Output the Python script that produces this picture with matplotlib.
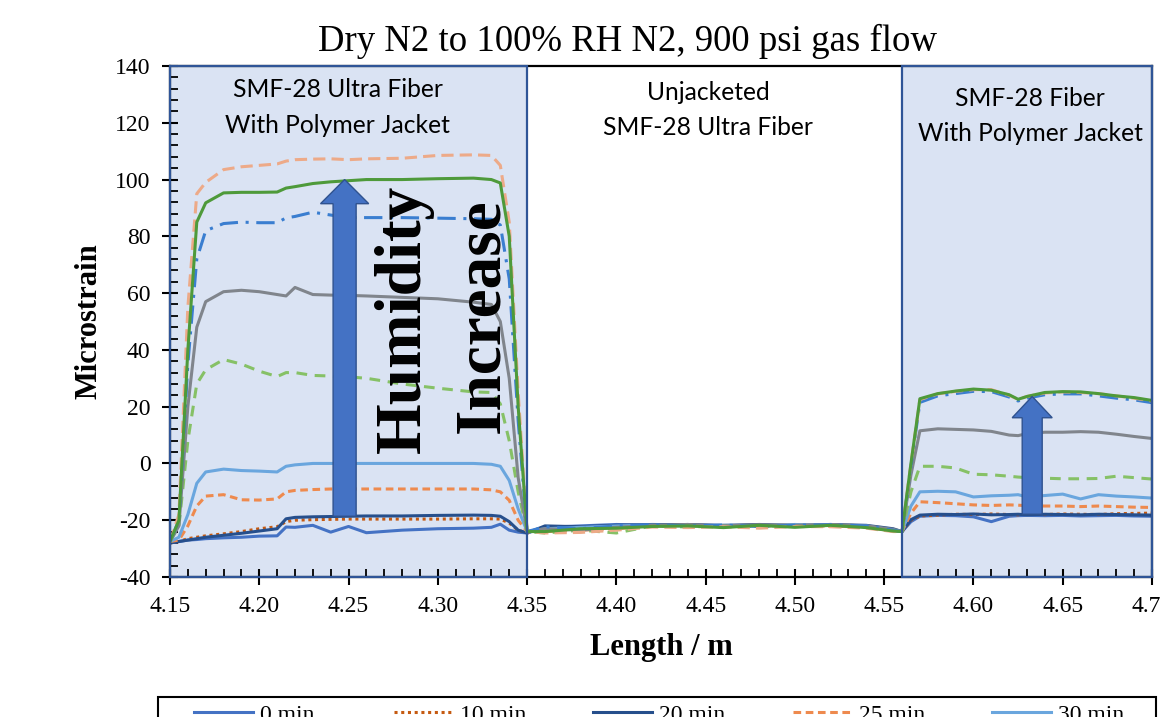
import matplotlib
matplotlib.use("Agg")
import matplotlib.pyplot as plt
from matplotlib.patches import Rectangle, FancyArrow
from matplotlib.ticker import MultipleLocator

plt.rcParams['font.family'] = ['Liberation Serif', 'DejaVu Serif']
plt.rcParams['axes.unicode_minus'] = False

# positions along the fibre (m)
length_m = [4.150, 4.155, 4.160, 4.165, 4.170, 4.180, 4.190, 4.200, 4.210, 4.215, 4.220,
            4.230, 4.240, 4.250, 4.260, 4.280, 4.300, 4.320, 4.330, 4.335, 4.340, 4.345, 4.350,
            4.360, 4.380, 4.400, 4.420, 4.440, 4.460, 4.480, 4.500, 4.520, 4.540, 4.555,
            4.560, 4.565, 4.570, 4.580, 4.590, 4.600, 4.610, 4.620, 4.625, 4.630, 4.640,
            4.650, 4.660, 4.670, 4.680, 4.690, 4.700]

# microstrain, one list per exposure time
t0 = [-28, -27.5, -27, -26.8, -26.5, -26.2, -26, -25.6, -25.5, -22.4, -22.5,
      -21.8, -24.2, -22.2, -24.4, -23.5, -23, -22.8, -22.5, -21.4, -23.5, -24.2, -24.5,
      -22.5, -22, -21.5, -21.8, -21.5, -22, -21.8, -22, -21.8, -22, -23.5,
      -24, -20.5, -18.6, -18.3, -18.4, -18.8, -20.5, -18.6, -18.4, -18.3, -18.4,
      -18.3, -18.5, -18.4, -18.3, -18.5, -18.6]
t10 = [-28, -27.5, -26.5, -26, -25.5, -24.8, -24, -23, -22.3, -20.5, -20,
       -19.8, -19.7, -19.6, -19.6, -19.6, -19.6, -19.5, -19.5, -19.6, -21, -23.5, -24.5,
       -23, -22.5, -22, -22, -21.8, -22, -22, -21.8, -22, -22.2, -23.5,
       -24, -20, -18.5, -18.2, -17.9, -18, -17.8, -18, -18.1, -17.9, -18,
       -17.8, -17.9, -18, -17.7, -17.6, -17.5]
t20 = [-28, -27.5, -27, -26.5, -26, -25.3, -24.6, -23.8, -23, -19.5, -19,
       -18.8, -18.7, -18.6, -18.5, -18.5, -18.3, -18.2, -18.3, -18.6, -20.5, -23.5, -24.5,
       -22, -22.3, -21.8, -21.5, -21.6, -21.8, -21.5, -21.8, -21.5, -21.8, -23,
       -24, -19.8, -18.2, -17.9, -18, -17.8, -18.1, -18, -17.9, -18.1, -17.9,
       -18, -18.1, -17.9, -18, -18.1, -18.2]
t25 = [-27.5, -27, -22, -15, -11.5, -11, -12.8, -12.9, -12.5, -10, -9.5,
       -9.2, -9, -9, -9, -9, -9, -9, -9.3, -10, -13, -20, -24,
       -24, -23.5, -23, -22, -21.8, -22.3, -22, -21.6, -22, -22.5, -23.8,
       -24, -17.5, -13.5, -13.8, -14.2, -14.6, -14.8, -14.6, -14.7, -14.9, -15,
       -15, -15.2, -15, -15.2, -15.4, -15.5]
t30 = [-27.5, -26, -18, -7, -3, -2, -2.5, -2.7, -3, -1, -0.5,
       0, 0, 0, 0, 0, 0, 0, -0.3, -1, -6, -16, -24,
       -23, -22.5, -22, -21.7, -22, -21.8, -22, -21.5, -21.8, -22, -23.5,
       -24, -15, -10, -9.8, -10, -11.8, -11.4, -11.2, -11, -11.8, -11.3,
       -10.8, -12.5, -11, -11.5, -11.8, -12.2]
t35 = [-27.5, -22, 8, 28, 33, 36.6, 35, 32.5, 30.6, 32, 32,
       31, 30.8, 30.5, 30, 28, 26.5, 25.2, 25, 21, 8, -10, -24,
       -24.5, -23.5, -24.5, -22, -22.4, -22, -21.8, -22.2, -21.7, -22.3, -23.8,
       -24, -10, -1, -1, -1.6, -3.8, -4, -4.5, -4.8, -5, -5.2,
       -5.4, -5.4, -5.3, -4.5, -5, -5.5]
t40 = [-27.5, -22, 20, 48, 57, 60.5, 61, 60.5, 59.5, 59, 62,
       59.5, 59.3, 59.2, 59, 58.5, 58, 56.8, 56, 50, 30, -5, -24,
       -23, -23.5, -22.5, -21.8, -21.5, -22, -21.6, -21.8, -21.5, -22, -23.2,
       -24, -4, 11.5, 12.2, 12, 11.8, 11.3, 10, 9.8, 10.5, 11,
       11, 11.2, 11, 10.3, 9.5, 8.8]
t45 = [-27.5, -20, 35, 72, 82, 84.5, 85, 84.8, 84.8, 86.5, 87,
       88.5, 87.5, 86.6, 86.6, 86.6, 86.4, 86.2, 86, 84, 65, 15, -24,
       -22.3, -23, -22, -21.6, -22, -21.7, -22.2, -21.8, -21.6, -22, -23.5,
       -24, -1, 21.5, 23.8, 24.6, 25.4, 25.3, 23.4, 22, 23, 24.2,
       24.5, 24.5, 23.8, 23, 22.4, 21.4]
t50 = [-27.5, -18, 55, 95, 99, 103.5, 104.5, 105, 105.5, 106.5, 107,
       107.2, 107.3, 107, 107.3, 107.5, 108.5, 108.7, 108.5, 105, 85, 25, -24,
       -24.5, -24.3, -23.5, -22.4, -22.6, -22.3, -22.8, -22.2, -22.3, -22.8, -24,
       -24, 0, 22.5, 24.5, 25.4, 26, 26, 24, 22.6, 23.6, 24.8,
       25.2, 25, 24.6, 23.8, 23, 22]
t60 = [-27.5, -20, 40, 85, 91.8, 95.3, 95.5, 95.5, 95.6, 97, 97.5,
       98.6, 99.2, 99.6, 100, 100, 100.3, 100.5, 100, 98.8, 80, 20, -24,
       -24, -23, -22.8, -22.2, -22, -22.6, -21.8, -22.5, -21.8, -22.6, -23.8,
       -24, 0, 22.8, 24.6, 25.5, 26.2, 25.8, 24.2, 22.6, 23.6, 25,
       25.3, 25.2, 24.6, 23.8, 23.2, 22.2]

labels = ['0 min', '10 min', '20 min', '25 min', '30 min',
          '35 min', '40 min', '45 min', '50 min', '60 min']
series = [t0, t10, t20, t25, t30, t35, t40, t45, t50, t60]
colors = ['#4472C4', '#C55A11', '#264F8C', '#EE8A4E', '#6AA6DE',
          '#86C166', '#80858C', '#3A7ED0', '#EDAA88', '#4E9A3A']
styles = ['-', (0, (1, 1.2)), '-', (0, (2.5, 1.5)), '-',
          (0, (3.5, 2.5)), '-', (0, (6, 2.5, 1, 2.5)), (0, (4, 2)), '-']

fig = plt.figure(figsize=(11.61, 7.17), dpi=100)
ax = fig.add_axes([170 / 1161, 1 - 577 / 717, 982 / 1161, 511 / 717])

# shaded fibre sections
for x0, w in [(4.15, 0.20), (4.56, 0.14)]:
    ax.add_patch(Rectangle((x0, -40), w, 180, facecolor='#DAE3F3', edgecolor='none', zorder=0))
    ax.add_patch(Rectangle((x0, -40), w, 180, fill=False, edgecolor='#2F5597',
                           linewidth=1.6, zorder=2.6, clip_on=False))

handles = []
for y, lab, c, ls in zip(series, labels, colors, styles):
    h, = ax.plot(length_m, y, color=c, linestyle=ls, linewidth=2.2, label=lab, zorder=2)
    handles.append(h)

# arrows
ax.add_patch(FancyArrow(4.2478, -18.6, 0, 118.6, width=0.0129, head_width=0.027,
                        head_length=8.5, length_includes_head=True,
                        facecolor='#4472C4', edgecolor='#2F528F', linewidth=1, zorder=4))
ax.add_patch(FancyArrow(4.6329, -17.9, 0, 41.5, width=0.0112, head_width=0.0224,
                        head_length=7.5, length_includes_head=True,
                        facecolor='#4472C4', edgecolor='#2F528F', linewidth=1, zorder=4))

ax.text(4.2811, 51, 'Humidity', rotation=90, ha='center', va='center',
        fontsize=47, fontweight='bold', zorder=5)
ax.text(4.3248, 52, 'Increase', rotation=90, ha='center', va='center',
        fontsize=47, fontweight='bold', zorder=5)

ax.text(4.244, 125.4, 'SMF-28 Ultra Fiber\nWith Polymer Jacket', ha='center', va='center',
        family='Lato', fontsize=17.7, linespacing=1.65, zorder=5)
ax.text(4.4514, 124.4, 'Unjacketed\nSMF-28 Ultra Fiber', ha='center', va='center',
        family='Lato', fontsize=17.7, linespacing=1.65, zorder=5)
ax.text(4.6318, 122.4, 'SMF-28 Fiber\nWith Polymer Jacket', ha='center', va='center',
        family='Lato', fontsize=17.7, linespacing=1.65, zorder=5)

ax.set_xlim(4.15, 4.70)
ax.set_ylim(-40, 140)
ax.xaxis.set_minor_locator(MultipleLocator(0.01))
ax.yaxis.set_major_locator(MultipleLocator(20))
ax.yaxis.set_minor_locator(MultipleLocator(4))
ax.set_xticks([4.15, 4.20, 4.25, 4.30, 4.35, 4.40, 4.45, 4.50, 4.55, 4.60, 4.65, 4.70])
ax.set_xticklabels(['4.15', '4.20', '4.25', '4.30', '4.35', '4.40', '4.45', '4.50',
                    '4.55', '4.60', '4.65', '4.70'])
ax.tick_params(which='major', direction='inout', length=12, width=1.5, labelsize=17, pad=8)
ax.tick_params(which='minor', direction='in', length=6, width=1.3)
for s in ax.spines.values():
    s.set_linewidth(1.6)

ax.set_title('Dry N2 to 100% RH N2, 900 psi gas flow', fontsize=26.5, pad=11,
             x=(628 - 170) / 982)
ax.set_ylabel('Microstrain', fontsize=22, fontweight='bold', labelpad=8)
ax.set_xlabel('Length / m', fontsize=22, fontweight='bold', labelpad=11.5)

# legend: only its top row falls inside the picture
order = [0, 5, 1, 6, 2, 7, 3, 8, 4, 9]
leg = fig.legend([handles[i] for i in order], [labels[i] for i in order],
                 loc='upper left', bbox_to_anchor=(194 / 1161, 1 - 704 / 717),
                 bbox_transform=fig.transFigure, ncol=5, fontsize=17, frameon=False,
                 borderpad=0, borderaxespad=0, handlelength=2.5, handletextpad=0.3,
                 columnspacing=2.85)
fig.add_artist(Rectangle((158 / 1161, -0.2), 998 / 1161, 0.2 + 20 / 717, fill=False,
                         edgecolor='black', linewidth=1.5, transform=fig.transFigure,
                         clip_on=False))

fig.savefig('out.png', dpi=100)
